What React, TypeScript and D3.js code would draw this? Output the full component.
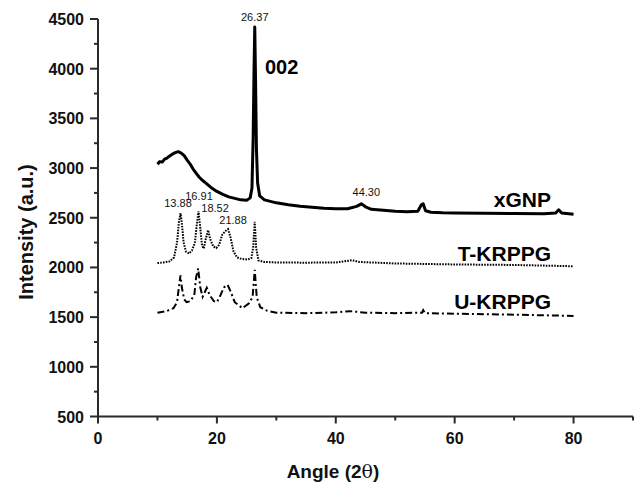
import React from "react";
import * as d3 from "d3";

const xTicks = [0, 20, 40, 60, 80];
const xMinorTicks = [10, 30, 50, 70, 90];
const yTicks = [500, 1000, 1500, 2000, 2500, 3000, 3500, 4000, 4500];
const yMinorTicks = [750, 1250, 1750, 2250, 2750, 3250, 3750, 4250];

const xgnpData: [number, number][] = [
  [10.0, 3040], [10.4, 3065], [10.8, 3060], [11.2, 3090], [11.6, 3100], [12.0, 3120], [12.5, 3140],
  [13.0, 3155], [13.5, 3165], [14.0, 3150], [14.5, 3125], [15.0, 3080], [15.5, 3040], [16.0, 2990],
  [16.5, 2950], [17.0, 2910], [17.5, 2880], [18.0, 2855], [19.0, 2805], [20.0, 2765], [21.0, 2735],
  [22.0, 2710], [23.0, 2695], [24.0, 2680], [25.0, 2675], [25.6, 2700], [25.9, 2800], [26.1, 3300],
  [26.25, 4000], [26.37, 4420], [26.5, 3900], [26.65, 3200], [26.85, 2850], [27.2, 2720], [28.0, 2680],
  [30.0, 2650], [32.0, 2630], [34.0, 2615], [36.0, 2605], [38.0, 2595], [40.0, 2590], [42.0, 2590],
  [43.5, 2615], [44.3, 2640], [45.0, 2610], [46.0, 2585], [48.0, 2575], [50.0, 2565], [52.0, 2560],
  [53.8, 2565], [54.4, 2630], [54.7, 2640], [55.1, 2570], [56.0, 2555], [58.0, 2550], [60.0, 2548],
  [65.0, 2545], [70.0, 2542], [75.0, 2540], [77.0, 2548], [77.5, 2580], [78.0, 2548], [80.0, 2535],
];

const tkrppgData: [number, number][] = [
  [10, 2044], [11, 2050], [12, 2060], [12.8, 2100], [13.3, 2250], [13.6, 2450], [13.88, 2545],
  [14.1, 2450], [14.4, 2250], [14.8, 2160], [15.3, 2140], [15.8, 2170], [16.3, 2250], [16.6, 2420],
  [16.91, 2565], [17.2, 2400], [17.5, 2220], [17.8, 2190], [18.1, 2280], [18.52, 2375], [18.9, 2280],
  [19.4, 2210], [19.9, 2195], [20.4, 2230], [20.9, 2330], [21.5, 2370], [21.88, 2385], [22.3, 2300],
  [22.8, 2160], [23.4, 2100], [24.2, 2085], [25.2, 2080], [25.8, 2095], [26.1, 2200], [26.37, 2460],
  [26.6, 2200], [27, 2070], [28, 2055], [30, 2050], [35, 2048], [40, 2050], [42.7, 2072], [44, 2055],
  [50, 2040], [55, 2035], [60, 2030], [70, 2025], [80, 2012],
];

const ukrppgData: [number, number][] = [
  [10, 1544], [11.5, 1560], [12.7, 1590], [13.3, 1650], [13.6, 1800], [13.88, 1920], [14.1, 1800],
  [14.5, 1680], [14.9, 1650], [15.5, 1660], [16.2, 1720], [16.5, 1900], [16.85, 1990], [17.2, 1800],
  [17.6, 1705], [18.3, 1795], [18.8, 1720], [19.5, 1660], [20, 1650], [20.6, 1720], [21.2, 1800],
  [21.8, 1825], [22.3, 1760], [23, 1650], [24.3, 1590], [25.4, 1640], [26, 1700], [26.37, 1975],
  [26.7, 1700], [27.3, 1600], [28.4, 1565], [30, 1545], [35, 1540], [40, 1548], [42.4, 1560],
  [45, 1545], [50, 1540], [54.5, 1545], [54.7, 1570], [55, 1540], [60, 1535], [70, 1525], [80, 1512],
];

const peakLabels: { text: string; x: number; y: number }[] = [
  { text: "26.37", x: 26.37, y: 4420 },
  { text: "13.88", x: 13.88, y: 2545 },
  { text: "16.91", x: 16.91, y: 2565 },
  { text: "18.52", x: 18.52, y: 2375 },
  { text: "21.88", x: 21.88, y: 2385 },
  { text: "44.30", x: 44.3, y: 2640 },
];

const seriesLabels: { text: string; y: number }[] = [
  { text: "xGNP", y: 2613 },
  { text: "T-KRPPG", y: 2067 },
  { text: "U-KRPPG", y: 1580 },
];

const FONT = "Arial, 'Liberation Sans', Helvetica, sans-serif";
const AXIS = "#2a2a2a";

export default function App() {
  const x = d3.scaleLinear().domain([0, 90]).range([98, 633]);
  const y = d3.scaleLinear().domain([500, 4500]).range([416.5, 19]);
  const line = d3
    .line<[number, number]>()
    .x((d) => x(d[0]))
    .y((d) => y(d[1]));

  const labelOffsets: Record<string, [number, number]> = {
    "26.37": [0, -6],
    "13.88": [-2.5, -6],
    "16.91": [0.5, -11],
    "18.52": [7, -18.5],
    "21.88": [5, -5],
    "44.30": [5, -8],
  };

  return (
    <svg
      width={636}
      height={482}
      style={{ position: "absolute", left: 0, top: 0, background: "#ffffff" }}
    >
      {/* series */}
      <path d={line(xgnpData) || ""} fill="none" stroke="#000" strokeWidth={3} strokeLinejoin="round" />
      <path
        d={line(tkrppgData) || ""}
        fill="none"
        stroke="#000"
        strokeWidth={2}
        strokeDasharray="1.6 1.2"
      />
      <path
        d={line(ukrppgData) || ""}
        fill="none"
        stroke="#000"
        strokeWidth={2}
        strokeDasharray="7 3 2 3"
      />

      {/* peak labels */}
      {peakLabels.map((p) => {
        const off = labelOffsets[p.text] || [0, -6];
        return (
          <text
            key={p.text}
            x={x(p.x) + off[0]}
            y={y(p.y) + off[1]}
            textAnchor="middle"
            fontFamily={FONT}
            fontSize={11}
            fill="#111"
          >
            {p.text}
          </text>
        );
      })}
      <text x={265} y={74} fontFamily={FONT} fontSize={20} fontWeight="bold" fill="#000">
        002
      </text>

      {/* series labels */}
      {seriesLabels.map((s) => (
        <text
          key={s.text}
          x={551}
          y={y(s.y)}
          textAnchor="end"
          fontFamily={FONT}
          fontSize={21}
          fontWeight="bold"
          fill="#000"
        >
          {s.text}
        </text>
      ))}

      {/* axes */}
      <line x1={x(0)} x2={x(90)} y1={y(500)} y2={y(500)} stroke={AXIS} strokeWidth={2} />
      <line x1={x(0)} x2={x(0)} y1={y(500)} y2={y(4500)} stroke={AXIS} strokeWidth={2} />
      {xTicks.map((t) => (
        <g key={"xt" + t}>
          <line x1={x(t)} x2={x(t)} y1={y(500)} y2={y(500) + 7} stroke={AXIS} strokeWidth={2} />
          <text
            x={x(t)}
            y={y(500) + 27}
            textAnchor="middle"
            fontFamily={FONT}
            fontSize={16}
            fontWeight="bold"
            fill="#111"
          >
            {t}
          </text>
        </g>
      ))}
      {xMinorTicks.map((t) => (
        <line key={"xm" + t} x1={x(t)} x2={x(t)} y1={y(500)} y2={y(500) + 4} stroke={AXIS} strokeWidth={2} />
      ))}
      {yTicks.map((t) => (
        <g key={"yt" + t}>
          <line x1={x(0) - 8} x2={x(0)} y1={y(t)} y2={y(t)} stroke={AXIS} strokeWidth={2} />
          <text
            x={x(0) - 14}
            y={y(t) + 6}
            textAnchor="end"
            fontFamily={FONT}
            fontSize={16}
            fontWeight="bold"
            fill="#111"
          >
            {t}
          </text>
        </g>
      ))}
      {yMinorTicks.map((t) => (
        <line key={"ym" + t} x1={x(0) - 4} x2={x(0)} y1={y(t)} y2={y(t)} stroke={AXIS} strokeWidth={2} />
      ))}

      {/* axis titles */}
      <text
        x={333}
        y={478}
        textAnchor="middle"
        fontFamily={FONT}
        fontSize={19}
        fontWeight="bold"
        fill="#111"
      >
        Angle (2<tspan fontFamily="'DejaVu Serif', 'Liberation Serif', serif" fontWeight="normal">θ</tspan>)
      </text>
      <text
        transform="translate(33, 232) rotate(-90)"
        textAnchor="middle"
        fontFamily={FONT}
        fontSize={20}
        fontWeight="bold"
        fill="#111"
      >
        Intensity (a.u.)
      </text>
    </svg>
  );
}
